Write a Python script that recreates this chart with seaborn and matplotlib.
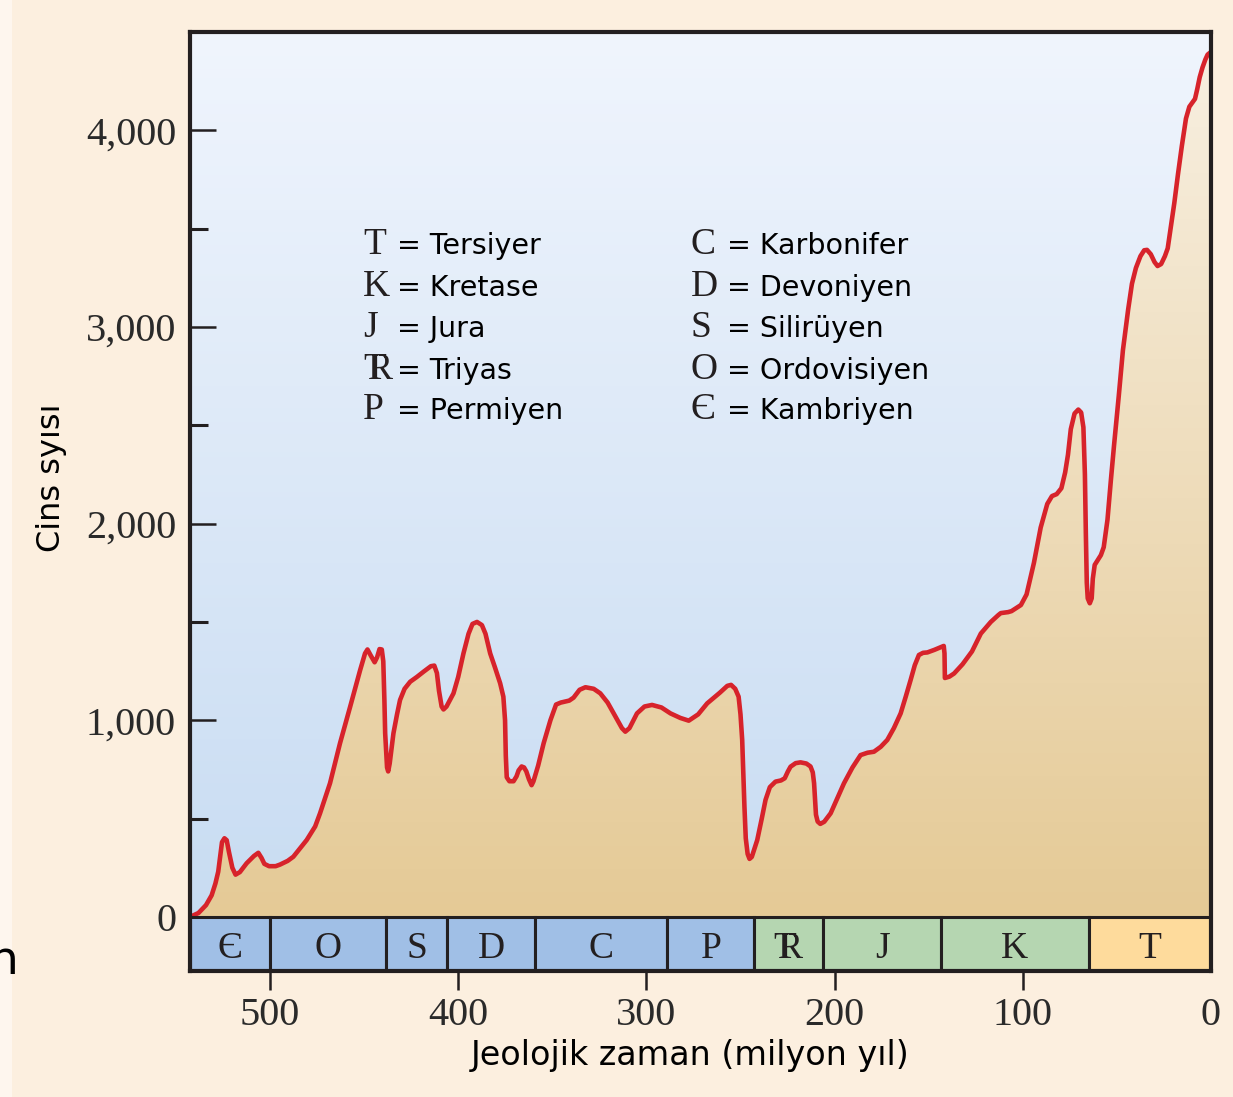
import matplotlib
matplotlib.use("Agg")
import matplotlib.pyplot as plt
import numpy as np
import pandas as pd
import seaborn as sns
from matplotlib.colors import to_rgb
from matplotlib.patches import PathPatch, Rectangle

# Genus count through time (age in Myr)
age = [
    542.5, 538, 534, 531, 529, 527.5, 526.3, 525.5, 524.2, 523, 521.8, 520,
    518.3, 516, 512.4, 508.5, 506.2, 504.5, 503, 500.5, 497, 494.7, 490.6,
    487.6, 480.5, 476, 473.4, 468.1, 462.8, 457.4, 452.1, 449.5, 448.2, 446.5,
    444.4, 443.1, 441.8, 440.6, 439.8, 439.2, 438.8, 437.8, 437.2, 436.4,
    434.4, 432.5, 430.9, 428.5, 425.5, 422, 418.4, 414.5, 412.7, 411.3, 410.2,
    408.8, 407.8, 406.2, 402.5, 400, 397.2, 394.5, 392.4, 390, 387.4, 385.5,
    383, 380.5, 377.7, 376, 375.1, 374.7, 374.2, 372.8, 370.6, 369, 367.9,
    366.3, 365, 363.8, 362.4, 361, 360, 357.5, 354.6, 351, 348, 345.5, 341,
    338.7, 335.5, 332.4, 328, 324.5, 320.6, 317.4, 313, 311.2, 309, 305, 301,
    297, 292, 287.2, 282, 277.5, 272.5, 267.7, 261, 257, 255, 252.8, 251, 250,
    249.1, 248.4, 247.9, 247.2, 246.2, 245.2, 244, 242.8, 241.1, 238.7, 236.7,
    234.4, 231.4, 228.5, 226.5, 224.8, 223.4, 220.7, 218.1, 215, 212.8, 211.6,
    210.9, 210.4, 209.9, 209, 207.6, 205.5, 202.1, 198.7, 195, 190.5, 186.2,
    182.5, 179.1, 175.5, 172, 168.5, 164.9, 162.2, 159.6, 157.4, 155.2, 153,
    150.7, 147, 143.5, 142, 141.6, 141.4, 139, 136.5, 132, 127, 122.3, 117,
    113, 111.7, 107.8, 106, 101, 98, 94.1, 90.5, 87, 84.5, 82, 79.5, 77.5, 76,
    74.5, 72.5, 70.5, 69, 67.8, 67, 66.5, 66, 65.5, 64.4, 63.4, 62.8, 61.8,
    60.5, 58.5, 57, 55, 53.2, 51.5, 49, 46.8, 44, 42, 39.9, 37.5, 35.5, 34,
    32, 30, 28.4, 26.5, 24.5, 23, 21.5, 19.5, 17.5, 15.5, 13.3, 11.5, 10, 8.5,
    7.3, 6, 4.5, 3, 1.8, 0.5, 0,
]
genera = [
    0, 20, 60, 110, 170, 230, 320, 380, 400, 390, 330, 250,
    215, 228, 273, 310, 326, 300, 270, 258, 258, 266, 285,
    306, 391, 460, 527, 680, 883, 1069, 1255, 1340, 1360, 1330,
    1295, 1320, 1362, 1360, 1300, 1100, 934, 760, 740, 780,
    934, 1030, 1103, 1160, 1196, 1220, 1247, 1275, 1278, 1240, 1150,
    1070, 1055, 1070, 1137, 1220, 1340, 1440, 1490, 1500, 1484, 1440,
    1340, 1270, 1188, 1120, 1000, 820, 710, 690, 690, 715, 745,
    765, 760, 740, 700, 670, 690, 770, 883, 1000, 1080, 1090, 1100,
    1115, 1155, 1168, 1160, 1137, 1090, 1035, 960, 942, 960, 1035, 1070,
    1078, 1065, 1035, 1012, 998, 1030, 1086, 1140, 1175, 1180, 1160, 1120, 1030,
    900, 700, 560, 400, 320, 295, 305, 340, 391, 500, 595,
    660, 688, 694, 705, 740, 764, 782, 786, 780, 765, 735,
    680, 600, 520, 485, 473, 484, 527, 600, 680, 760, 823,
    835, 840, 865, 900, 960, 1035, 1120, 1205, 1280, 1332, 1343,
    1345, 1358, 1372, 1378, 1340, 1215, 1222, 1238, 1285, 1350, 1441, 1500,
    1535, 1545, 1550, 1555, 1586, 1640, 1800, 1980, 2100, 2140, 2150, 2180, 2260, 2350,
    2480, 2560, 2580, 2565, 2490, 2250, 1950, 1700, 1620, 1595, 1620, 1720, 1790,
    1810, 1840, 1880, 2020, 2221, 2400, 2650, 2882, 3090, 3220, 3300, 3360, 3390, 3392,
    3370, 3330, 3310, 3320, 3360, 3400, 3500, 3630, 3780, 3920, 4060, 4120, 4140, 4160,
    4210, 4270, 4320, 4360, 4385, 4395, 4395,
]

# Geological periods (older boundary, younger boundary, symbol)
TRIAS = r"$\mathrm{T\!\!\!R}$"
period_start = [542.5, 500, 438.3, 405.9, 359, 288.8, 242.6, 205.9, 143.6, 64.9]
period_end = [500, 438.3, 405.9, 359, 288.8, 242.6, 205.9, 143.6, 64.9, 0]
period_symbol = ["Є", "O", "S", "D", "C", "P", TRIAS, "J", "K", "T"]
period_color = ["#a0bfe6"] * 6 + ["#b5d6b1"] * 3 + ["#fedb9c"]

legend_left = [("T", "Tersiyer"), ("K", "Kretase"), ("J", "Jura"),
               (TRIAS, "Triyas"), ("P", "Permiyen")]
legend_right = [("C", "Karbonifer"), ("D", "Devoniyen"), ("S", "Silirüyen"),
                ("O", "Ordovisiyen"), ("Є", "Kambriyen")]
legend_baseline = [3370, 3157, 2949, 2735, 2532]

y_ticks = [0, 1000, 2000, 3000, 4000]
y_tick_labels = ["0", "1,000", "2,000", "3,000", "4,000"]
x_ticks = [500, 400, 300, 200, 100, 0]
x_tick_labels = ["500", "400", "300", "200", "100", "0"]

BG = "#fcefdf"
SERIF = "Liberation Serif"
SANS = "DejaVu Sans"
INK = "#231f20"

sns.set_theme(style="white")
plt.rcParams["font.family"] = [SANS]
plt.rcParams["mathtext.fontset"] = "custom"
plt.rcParams["mathtext.rm"] = SERIF

fig = plt.figure(figsize=(12.33, 10.97), dpi=100, facecolor=BG)
ax = fig.add_axes([190 / 1233, 1 - 971 / 1097, 1021 / 1233, 939 / 1097])
ax.set_facecolor(BG)
fig.patches.append(Rectangle((0, 0), 12 / 1233, 1, transform=fig.transFigure,
                             facecolor="#fef6ee", edgecolor="none", zorder=-5))

x_left, x_right, y_bot, y_top = 542.5, 0, -275, 4500


def gradient(c0, c1, n=256):
    a, b = np.array(to_rgb(c0)), np.array(to_rgb(c1))
    t = np.linspace(0, 1, n)[:, None]
    return (a + (b - a) * t)[:, None, :]


# sky background
ax.imshow(gradient("#c8dcf2", "#f0f5fd"), extent=(x_left, x_right, 0, y_top),
          origin="lower", aspect="auto", zorder=0, interpolation="bicubic")

# tan fill under the curve
poly = ax.fill_between(age, genera, 0, facecolor="none", edgecolor="none")
clip = PathPatch(poly.get_paths()[0], transform=ax.transData,
                 facecolor="none", edgecolor="none")
ax.add_patch(clip)
tan = ax.imshow(gradient("#e5ca96", "#f8f0e2"), extent=(x_left, x_right, 0, y_top),
                origin="lower", aspect="auto", zorder=1, interpolation="bicubic")
tan.set_clip_path(clip)

df = pd.DataFrame({"age": age, "genera": genera})
sns.lineplot(data=df, x="age", y="genera", ax=ax, color="#d7232b",
             linewidth=3.3, sort=False, estimator=None, zorder=3,
             solid_joinstyle="round", solid_capstyle="round")

# period bar
widths = [s - e for s, e in zip(period_start, period_end)]
ax.bar(period_end, [y_bot] * len(period_end), width=widths, bottom=0,
       align="edge", color=period_color, edgecolor=INK, linewidth=2.2, zorder=4)

for s, e, sym in zip(period_start, period_end, period_symbol):
    ax.text((s + e) / 2, -208, sym, ha="center", va="baseline", fontsize=27,
            family=SERIF, color=INK, zorder=6)

for (sym, name), yb in zip(legend_left, legend_baseline):
    ax.text(450.5, yb, sym, ha="left", va="baseline", fontsize=27,
            family=SERIF, color=INK, zorder=6)
    ax.text(432.4, yb, "= " + name, ha="left", va="baseline", fontsize=20.5,
            color="black", zorder=6)
for (sym, name), yb in zip(legend_right, legend_baseline):
    ax.text(276.6, yb, sym, ha="left", va="baseline", fontsize=27,
            family=SERIF, color=INK, zorder=6)
    ax.text(257.4, yb, "= " + name, ha="left", va="baseline", fontsize=20.5,
            color="black", zorder=6)

ax.set_xlim(x_left, x_right)
ax.set_ylim(y_bot, y_top)

ax.set_yticks(y_ticks)
ax.set_yticklabels(y_tick_labels, family=SERIF, fontsize=29, color="#2a2a2a")
ax.set_yticks([500, 1500, 2500, 3500], minor=True)
ax.tick_params(axis="y", which="major", direction="in", length=19, width=1.8,
               color=INK, pad=10, left=True)
ax.tick_params(axis="y", which="minor", direction="in", length=13, width=2.2,
               color=INK, left=True)

ax.set_xticks(x_ticks)
ax.set_xticklabels(x_tick_labels, family=SERIF, fontsize=29, color="#2a2a2a")
ax.tick_params(axis="x", which="major", direction="out", length=14, width=1.8,
               color=INK, pad=5, bottom=True)
ax.xaxis.get_major_ticks()[-1].tick1line.set_visible(False)

for sp in ax.spines.values():
    sp.set_color(INK)
    sp.set_linewidth(3)
    sp.set_zorder(7)

ax.set_xlabel("Jeolojik zaman (milyon yıl)", fontsize=24, color="black")
ax.xaxis.set_label_coords(0.4897, -0.0895)
ax.xaxis.label.set_va("center")
ax.set_ylabel("Cins syısı", fontsize=23, color="black")
ax.yaxis.set_label_coords(-0.136, 0.525)
ax.yaxis.label.set_va("center")

fig.text(19 / 1233, 1 - 962 / 1097, "n", ha="right", va="center", fontsize=34,
         color="black")

fig.savefig("out.png", dpi=100, facecolor=BG)
